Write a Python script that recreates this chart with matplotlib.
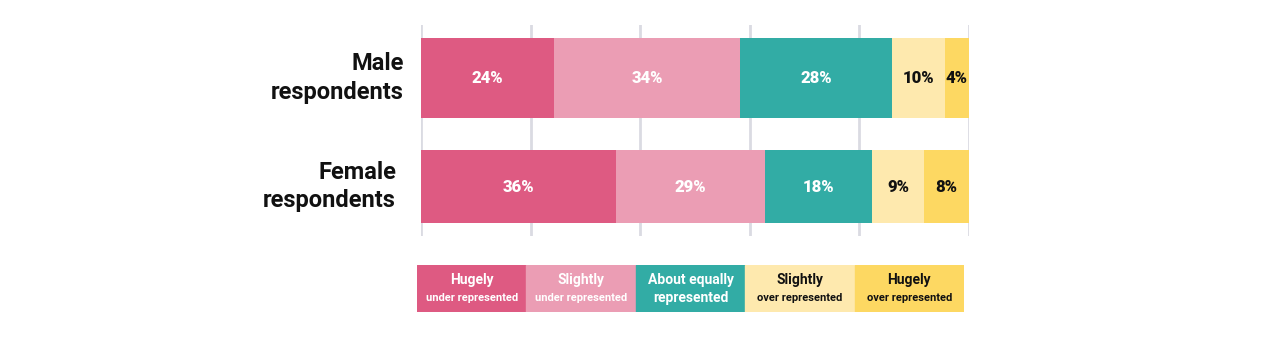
import numpy as np
import matplotlib.pyplot as plt
from matplotlib.patches import Rectangle

# data (bar widths as drawn, labels as printed)
groups = ["Male\nrespondents", "Female\nrespondents"]
categories = ["Hugely under represented", "Slightly under represented",
              "About equally represented", "Slightly over represented",
              "Hugely over represented"]
male_widths = [24.3, 33.9, 27.7, 9.7, 4.4]
female_widths = [35.6, 27.2, 19.5, 9.5, 8.2]
male_labels = ["24%", "34%", "28%", "10%", "4%"]
female_labels = ["36%", "29%", "18%", "9%", "8%"]
legend_top = ["Hugely", "Slightly", "About equally", "Slightly", "Hugely"]
legend_bottom = ["under represented", "under represented", "represented",
                 "over represented", "over represented"]

colors = ["#de5a82", "#eb9db4", "#32aca5", "#fee9ae", "#fdd862"]
text_colors = ["white", "white", "white", "#111111", "#111111"]

W, H = 1283, 349
fig = plt.figure(figsize=(W / 100, H / 100), dpi=100)

def px_axes(x0, y0, x1, y1):
    return fig.add_axes([x0 / W, 1 - y1 / H, (x1 - x0) / W, (y1 - y0) / H])

ax = px_axes(421, 25, 969, 236)
ax.set_xlim(0, 100)
ax.set_ylim(1.455, -0.488)
for x in range(0, 101, 20):
    ax.axvline(x, color="#dadbe2", lw=2, zorder=0)

widths = [male_widths, female_widths]
labels = [male_labels, female_labels]
heights = [0.73, 0.67]
for i, (w, lab) in enumerate(zip(widths, labels)):
    left = 0
    for j, v in enumerate(w):
        ax.barh(i, v, left=left, height=heights[i], color=colors[j], zorder=2)
        ax.text(left + v / 2, i, lab[j], ha="center", va="center",
                color=text_colors[j], fontsize=12, fontweight="heavy",
                family="Roboto", zorder=3)
        left += v

label_x = [404, 396]
for i, g in enumerate(groups):
    y_disp = ax.transData.transform((0, i))[1]
    fig.text(label_x[i] / W, y_disp / H, g, ha="right", va="center",
             fontsize=17, fontweight="bold", family="Roboto",
             linespacing=1.3, color="#111111")

ax.axis("off")

# legend as colour boxes
lax = px_axes(417, 265, 964, 312)
lax.set_xlim(0, len(categories))
lax.set_ylim(0, 1)
for k in range(len(categories)):
    lax.add_patch(Rectangle((k, 0), 1, 1, color=colors[k]))
    lax.text(k + 0.5, 0.68, legend_top[k], ha="center", va="center",
             color=text_colors[k], fontsize=10, fontweight="bold",
             family="Roboto")
    small = 10 if k == 2 else 8
    lax.text(k + 0.5, 0.3, legend_bottom[k], ha="center", va="center",
             color=text_colors[k], fontsize=small, fontweight="bold",
             family="Roboto")
lax.axis("off")

fig.savefig("out.png", dpi=100)
